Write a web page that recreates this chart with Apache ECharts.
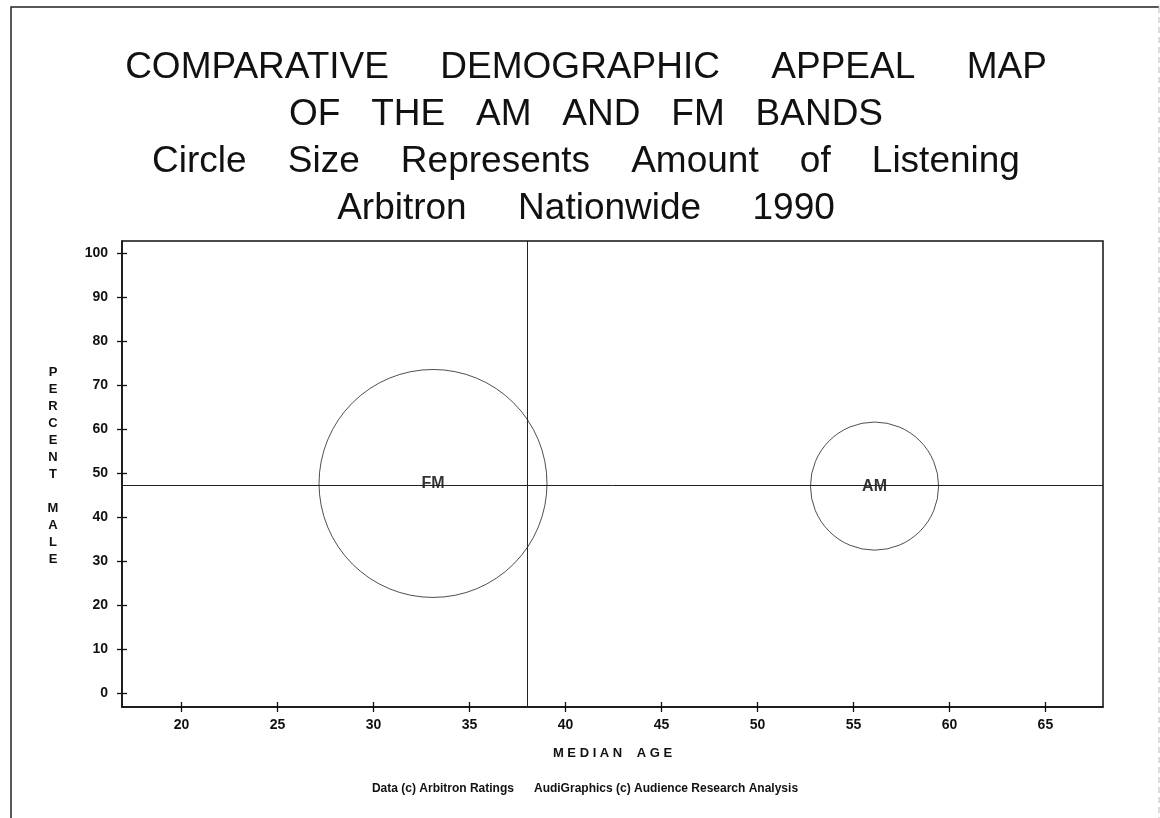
<!DOCTYPE html>
<html>
<head>
<meta charset="utf-8">
<script src="https://cdn.jsdelivr.net/npm/echarts@6/dist/echarts.min.js"></script>
<style>html,body{margin:0;padding:0;background:#fff;}#chart{width:1160px;height:818px;}</style>
</head>
<body>
<div id="chart"></div>
<script>
// ---- data ----
const bands = ['FM', 'AM'];
const medianAge = [33.1, 56.1];
const percentMale = [47.6, 47.0];
const listeningShare = [76, 24];
const xTickValues = [20, 25, 30, 35, 40, 45, 50, 55, 60, 65];
const yTickValues = [0, 10, 20, 30, 40, 50, 60, 70, 80, 90, 100];
const refMedianAge = 38;
const refPercentMale = 47.3;
const titleLines = [
  'COMPARATIVE     DEMOGRAPHIC     APPEAL     MAP',
  'OF   THE   AM   AND   FM   BANDS',
  'Circle    Size    Represents    Amount    of    Listening',
  'Arbitron     Nationwide     1990'
];
const footerText = 'Data (c) Arbitron Ratings      AudiGraphics (c) Audience Research Analysis';

// ---- chart ----
const chart = echarts.init(document.getElementById('chart'), null, {renderer: 'canvas'});
const FONT = '"Liberation Sans", Arial, Helvetica, sans-serif';
const sizeK = 26.15;
const points = bands.map((b, i) => ({name: b, value: [medianAge[i], percentMale[i], listeningShare[i]]}));
const xMin = 16.9, xMax = 68.0, yMin = -3.2, yMax = 102.7;

const tickStyle = {color: '#111', width: 1.3};
const option = {
  backgroundColor: '#ffffff',
  animation: false,
  title: [{
    text: titleLines.join('\n'),
    left: 586, top: 44, textAlign: 'center', padding: 0,
    textStyle: {fontFamily: FONT, fontSize: 37, fontWeight: 'normal', color: '#111', lineHeight: 47}
  }, {
    text: footerText,
    left: 585, top: 783, textAlign: 'center', padding: 0,
    textStyle: {fontFamily: FONT, fontSize: 12, fontWeight: 'bold', color: '#111'}
  }],
  grid: {left: 122, top: 241, width: 981, height: 466, show: true, borderColor: '#111', borderWidth: 1.5, backgroundColor: 'transparent'},
  xAxis: [{
    type: 'value', min: xMin, max: xMax, position: 'bottom',
    name: 'M E D I A N    A G E', nameLocation: 'middle', nameGap: 40,
    nameTextStyle: {fontFamily: FONT, fontSize: 13, fontWeight: 'bold', color: '#111'},
    axisLine: {show: true, onZero: false, lineStyle: {color: '#111', width: 1.5}},
    axisTick: {show: true, inside: false, length: 5, customValues: xTickValues, lineStyle: tickStyle},
    axisLabel: {show: true, customValues: xTickValues, margin: 11, fontFamily: FONT, fontSize: 14, fontWeight: 'bold', color: '#111'},
    splitLine: {show: false}
  }, {
    type: 'value', min: xMin, max: xMax, position: 'bottom', offset: -5,
    axisLine: {show: false, onZero: false},
    axisTick: {show: true, inside: false, length: 5, customValues: xTickValues, lineStyle: tickStyle},
    axisLabel: {show: false},
    splitLine: {show: false}
  }],
  yAxis: [{
    type: 'value', min: yMin, max: yMax, position: 'left',
    name: 'P\nE\nR\nC\nE\nN\nT\n \nM\nA\nL\nE\n ', nameLocation: 'middle', nameRotate: 0, nameGap: 69,
    nameTextStyle: {fontFamily: FONT, fontSize: 13, fontWeight: 'bold', color: '#111', lineHeight: 17, align: 'center', verticalAlign: 'middle'},
    axisLine: {show: true, onZero: false, lineStyle: {color: '#111', width: 1.5}},
    axisTick: {show: true, inside: false, length: 5, customValues: yTickValues, lineStyle: tickStyle},
    axisLabel: {show: true, customValues: yTickValues, margin: 14, fontFamily: FONT, fontSize: 14, fontWeight: 'bold', color: '#111'},
    splitLine: {show: false}
  }, {
    type: 'value', min: yMin, max: yMax, position: 'left', offset: -5,
    axisLine: {show: false, onZero: false},
    axisTick: {show: true, inside: false, length: 5, customValues: yTickValues, lineStyle: tickStyle},
    axisLabel: {show: false},
    splitLine: {show: false}
  }],
  series: [{
    type: 'scatter',
    xAxisIndex: 0, yAxisIndex: 0,
    data: points,
    symbol: 'circle',
    symbolSize: function (v) { return sizeK * Math.sqrt(v[2]); },
    itemStyle: {color: 'rgba(255,255,255,0)', borderColor: '#222', borderWidth: 1},
    label: {show: true, position: 'inside', formatter: '{b}', fontFamily: FONT, fontSize: 16, fontWeight: 'bold', color: '#000', textBorderWidth: 0},
    emphasis: {disabled: true},
    markLine: {
      silent: true, symbol: ['none', 'none'],
      label: {show: false},
      lineStyle: {color: '#222', width: 1, type: 'solid'},
      data: [{yAxis: refPercentMale}, {xAxis: refMedianAge}]
    },
    z: 3
  }],
  graphic: [{
    type: 'polyline', silent: true,
    shape: {points: [[11, 830], [11, 7], [1159, 7]]},
    style: {stroke: '#222', lineWidth: 1.5, fill: null}
  }, {
    type: 'line', silent: true,
    shape: {x1: 1159, y1: 7, x2: 1159, y2: 830},
    style: {stroke: '#bbb', lineWidth: 1, lineDash: [6, 4]}
  }]
};
chart.setOption(option);
</script>
</body>
</html>
